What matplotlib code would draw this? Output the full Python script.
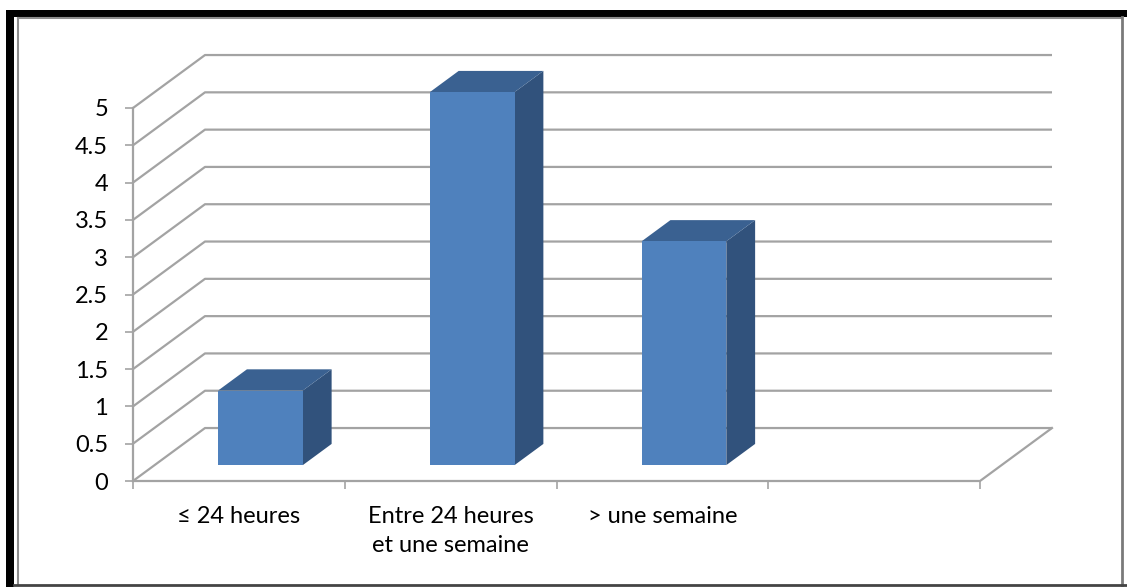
import matplotlib
matplotlib.use("Agg")
import matplotlib.pyplot as plt
from matplotlib.patches import Polygon, Rectangle
from matplotlib.lines import Line2D

plt.rcParams['font.family'] = ['Lato', 'DejaVu Sans']

categories = ['≤ 24 heures', 'Entre 24 heures\net une semaine', '> une semaine', '']
values = [1, 5, 3]
y_ticks = [0, 0.5, 1, 1.5, 2, 2.5, 3, 3.5, 4, 4.5, 5]
y_labels = ['0', '0.5', '1', '1.5', '2', '2.5', '3', '3.5', '4', '4.5', '5']

W, H = 1127, 587
fig = plt.figure(figsize=(W / 100, H / 100), dpi=100)
ax = fig.add_axes([133 / W, (H - 481) / H, (980 - 133) / W, (481 - 108) / H])

n = len(categories)
ymax = 5
# depth of the 3d box in data units
DX = 0.34
DY = 0.71
grid_c = '#a3a3a3'
front_c = '#4f81bd'
top_c = '#3a6191'
side_c = '#31527c'

ax.set_xlim(0, n)
ax.set_ylim(0, ymax)
for s in ax.spines.values():
    s.set_visible(False)
ax.patch.set_visible(False)

# back wall grid lines with their slanted edges on the side wall
for v in y_ticks:
    ax.plot([0, DX, n + DX], [v, v + DY, v + DY], color=grid_c, lw=1.6,
            clip_on=False, zorder=1, solid_capstyle='butt')
# floor
ax.plot([0, n, n + DX], [0, 0, DY], color=grid_c, lw=1.6, clip_on=False, zorder=1)
ax.plot([0, 0], [0, ymax], color=grid_c, lw=1.6, clip_on=False, zorder=1)

# columns
bw = 0.4
d0, d1 = 0.3, 0.7
for i, v in enumerate(values):
    xl = i + 0.5 - bw / 2 + d0 * DX
    xr = xl + bw
    yb = d0 * DY
    ddx = (d1 - d0) * DX
    ddy = (d1 - d0) * DY
    side = Polygon([(xr, yb), (xr, yb + v), (xr + ddx, yb + v + ddy), (xr + ddx, yb + ddy)],
                   closed=True, fc=side_c, ec='none', clip_on=False, zorder=3)
    top = Polygon([(xl, yb + v), (xr, yb + v), (xr + ddx, yb + v + ddy), (xl + ddx, yb + v + ddy)],
                  closed=True, fc=top_c, ec='none', clip_on=False, zorder=3)
    front = Rectangle((xl, yb), bw, v, fc=front_c, ec='none', clip_on=False, zorder=4)
    ax.add_patch(side)
    ax.add_patch(top)
    ax.add_patch(front)

ax.set_yticks(y_ticks)
ax.set_yticklabels(y_labels)
ax.set_xticks(range(n + 1))
ax.set_xticklabels([])
ax.set_xticks([i + 0.5 for i in range(n)], minor=True)
ax.set_xticklabels(categories, minor=True, linespacing=1.5)
ax.tick_params(axis='y', length=6, width=1.2, color=grid_c, pad=12, labelsize=17, labelcolor='black')
ax.tick_params(axis='x', which='major', length=6, width=1.2, color=grid_c)
ax.tick_params(axis='x', which='minor', length=0, pad=18, labelsize=17, labelcolor='black')

# frame around the chart area
fig.add_artist(Rectangle((6 / W, 0), 8 / W, (H - 10) / H, transform=fig.transFigure,
                         fc='black', ec='none'))
fig.add_artist(Rectangle((6 / W, (H - 17) / H), (W - 6) / W, 7 / H, transform=fig.transFigure,
                         fc='black', ec='none'))
fig.add_artist(Line2D([18 / W, 18 / W], [2 / H, (H - 18) / H], transform=fig.transFigure,
                      color='#8c8c8c', lw=1.5))
fig.add_artist(Line2D([18 / W, 1122 / W], [(H - 18) / H, (H - 18) / H], transform=fig.transFigure,
                      color='#8c8c8c', lw=1.5))
fig.add_artist(Line2D([1122 / W, 1122 / W], [2 / H, (H - 17) / H], transform=fig.transFigure,
                      color='#7a7a7a', lw=2))
fig.add_artist(Line2D([14 / W, W / W], [2.5 / H, 2.5 / H], transform=fig.transFigure,
                      color='#444444', lw=2))

fig.savefig('out.png', dpi=100)
